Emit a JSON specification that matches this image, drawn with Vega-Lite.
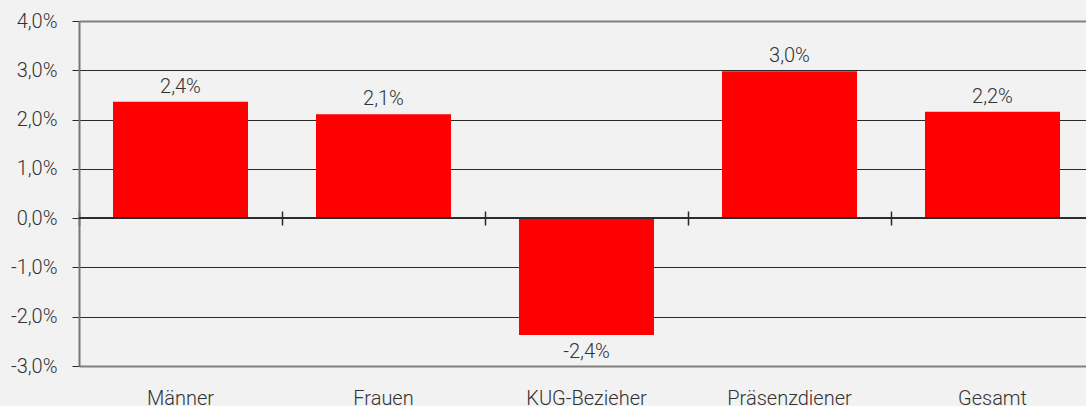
{
  "$schema": "https://vega.github.io/schema/vega-lite/v6.json",
  "width": 1007,
  "height": 345,
  "autosize": "none",
  "padding": {"left": 79, "top": 21, "right": 0, "bottom": 40},
  "background": "#f2f2f2",
  "config": {
    "locale": {"number": {"decimal": ",", "thousands": ".", "grouping": [3], "currency": ["", " €"], "minus": "-"}},
    "view": {"stroke": null},
    "font": "Roboto",
    "axis": {"labelFont": "Roboto", "labelFontWeight": 300, "labelColor": "#333333", "labelFontSize": 20}
  },
  "data": {
    "values": [
      {"kategorie": "Männer", "wert": 0.0236},
      {"kategorie": "Frauen", "wert": 0.0211},
      {"kategorie": "KUG-Bezieher", "wert": -0.0237},
      {"kategorie": "Präsenzdiener", "wert": 0.0298},
      {"kategorie": "Gesamt", "wert": 0.0216}
    ]
  },
  "layer": [
    {
      "mark": {"type": "bar", "color": "#ff0000", "width": {"band": 0.665}},
      "encoding": {
        "x": {
          "field": "kategorie", "type": "nominal", "sort": null,
          "scale": {"range": [0, 1015], "paddingInner": 0, "paddingOuter": 0},
          "axis": {"orient": "bottom", "title": null, "domain": false, "ticks": false, "tickSize": 0, "labelPadding": 38, "labelBaseline": "alphabetic", "labelAngle": 0, "grid": false}
        },
        "y": {
          "field": "wert", "type": "quantitative",
          "scale": {"domain": [-0.03, 0.04], "nice": false, "zero": false},
          "axis": {
            "title": null,
            "values": [-0.03, -0.02, -0.01, 0, 0.01, 0.02, 0.03, 0.04],
            "format": ".1%",
            "grid": true,
            "gridColor": {"condition": {"test": "abs(datum.value - 0.04) < 0.0001 || abs(datum.value + 0.03) < 0.0001", "value": "#808080"}, "value": "#2a2a2a"},
            "gridWidth": {"condition": {"test": "abs(datum.value - 0.04) < 0.0001 || abs(datum.value + 0.03) < 0.0001", "value": 2}, "value": 1},
            "domainColor": "#777777",
            "domainWidth": 2,
            "tickColor": "#2a2a2a",
            "tickSize": 7,
            "labelPadding": 15
          }
        }
      }
    },
    {
      "mark": {"type": "rule", "color": "#2a2a2a", "strokeWidth": 1.5},
      "encoding": {"y": {"datum": 0, "type": "quantitative"}}
    },
    {
      "transform": [{"filter": "datum.wert >= 0"}],
      "mark": {"type": "text", "baseline": "alphabetic", "dy": -9, "fontSize": 20, "fontWeight": 300, "font": "Roboto", "color": "#333333"},
      "encoding": {
        "x": {
          "field": "kategorie", "type": "nominal", "sort": null,
          "axis": {"orient": "top", "offset": -204, "title": null, "labels": false, "domain": false, "ticks": true, "tickSize": 14, "tickWidth": 1.5, "tickColor": "#2a2a2a", "tickBand": "extent", "grid": false}
        },
        "y": {"field": "wert", "type": "quantitative"},
        "text": {"field": "wert", "type": "quantitative", "format": ".1%"}
      }
    },
    {
      "transform": [{"filter": "datum.wert < 0"}],
      "mark": {"type": "text", "baseline": "alphabetic", "dy": 23, "fontSize": 20, "fontWeight": 300, "font": "Roboto", "color": "#333333"},
      "encoding": {
        "x": {"field": "kategorie", "type": "nominal", "sort": null, "axis": null},
        "y": {"field": "wert", "type": "quantitative"},
        "text": {"field": "wert", "type": "quantitative", "format": ".1%"}
      }
    }
  ],
  "resolve": {"axis": {"x": "independent"}}
}
